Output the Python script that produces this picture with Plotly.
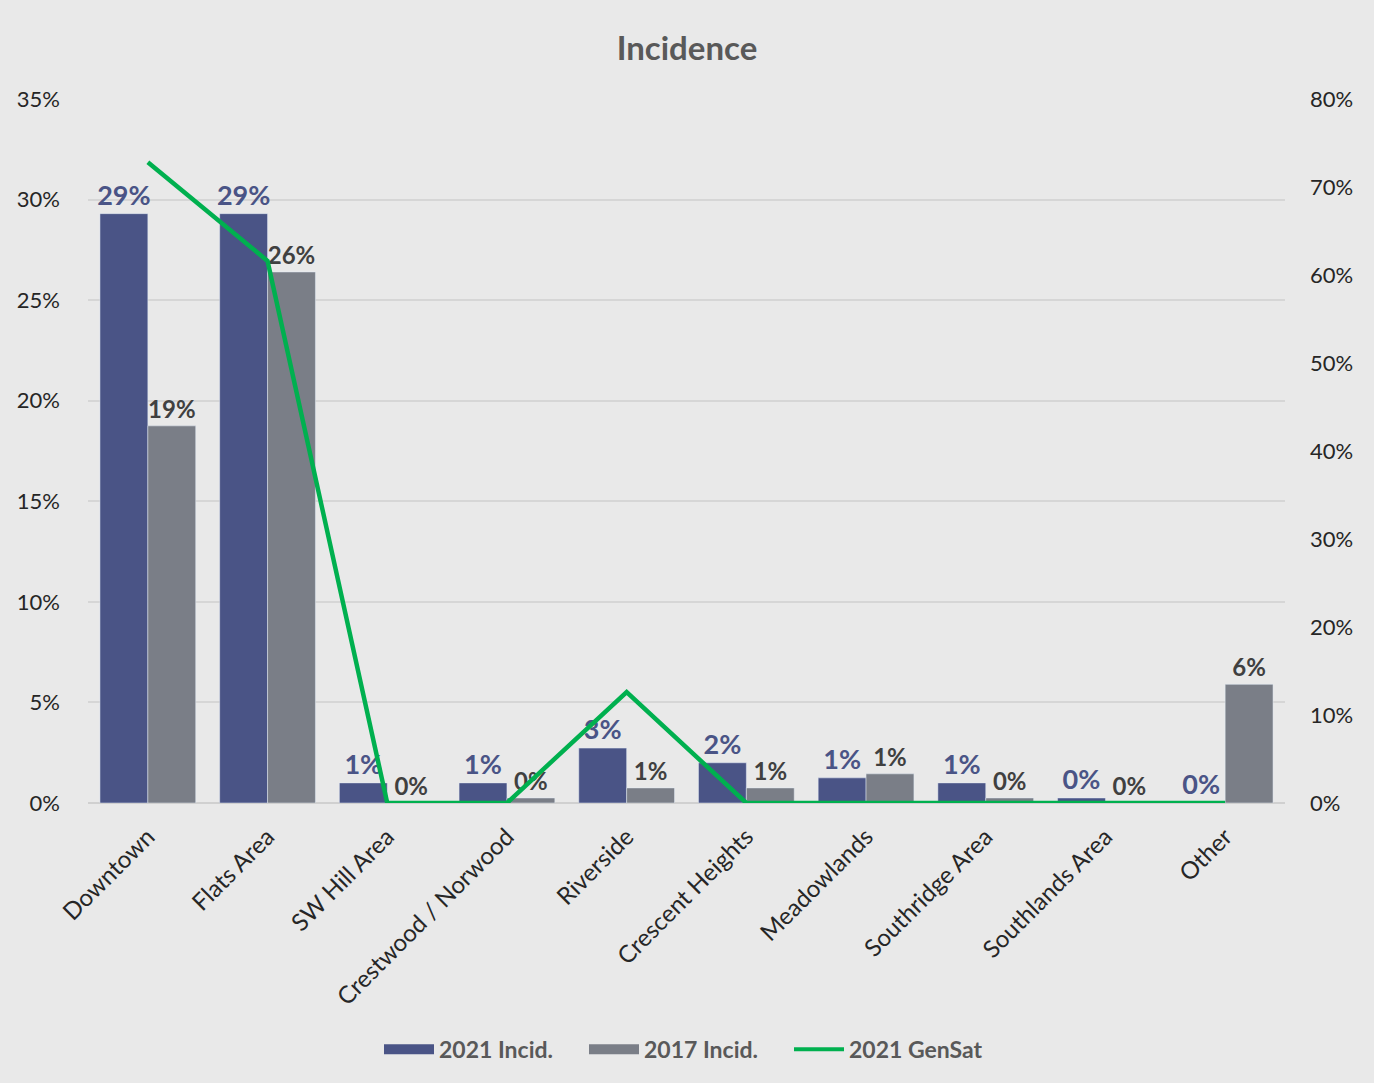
import plotly.graph_objects as go

categories = ["Downtown", "Flats Area", "SW Hill Area", "Crestwood / Norwood", "Riverside",
              "Crescent Heights", "Meadowlands", "Southridge Area", "Southlands Area", "Other"]
incid_2021 = [0.293, 0.293, 0.010, 0.010, 0.0273, 0.020, 0.0125, 0.010, 0.0025, 0.0]
incid_2017 = [0.1875, 0.264, 0.0, 0.0025, 0.0075, 0.0075, 0.0145, 0.0025, 0.0, 0.059]
gensat_2021 = [0.728, 0.616, 0.0, 0.0, 0.126, 0.0, 0.0, 0.0, 0.0, 0.0]

C21 = "#4a5486"
C17 = "#7a7e87"
CG = "#00b04f"
FONT = "Lato"
fig = go.Figure()
fig.add_trace(go.Bar(
    x=categories, y=incid_2021, name="2021 Incid.", marker_color=C21, showlegend=False,
    texttemplate="%{y:.0%}", textposition="outside", cliponaxis=False, constraintext="none",
    textfont=dict(family=FONT, size=27, color=C21, weight="bold"),
))
fig.add_trace(go.Bar(
    x=categories, y=incid_2017, name="2017 Incid.", marker_color=C17, showlegend=False,
    texttemplate="%{y:.0%}", textposition="outside", cliponaxis=False, constraintext="none",
    textfont=dict(family=FONT, size=24, color="#404040", weight="bold"),
))
fig.add_trace(go.Scatter(
    x=categories, y=gensat_2021, name="2021 GenSat", mode="lines", yaxis="y2", showlegend=False,
    line=dict(color=CG, width=4.5), cliponaxis=False,
))
# legend entries
for nm, col, w in [("2021 Incid.", C21, 16), ("2017 Incid.", C17, 16), ("2021 GenSat", CG, 4)]:
    fig.add_trace(go.Scatter(x=[None], y=[None], mode="lines", name=nm,
                             line=dict(color=col, width=w)))

fig.update_layout(
    width=1374, height=1083,
    paper_bgcolor="#e9e9e9", plot_bgcolor="#e9e9e9",
    margin=dict(l=88, r=89, t=99, b=280, autoexpand=False),
    title=dict(text="<b>Incidence</b>", x=0.5, xanchor="center", y=0.955, yanchor="middle",
               font=dict(family=FONT, size=33, color="#595959")),
    barmode="group", bargap=0.2, bargroupgap=0,
    font=dict(family=FONT, size=22, color="#262626"),
    xaxis=dict(tickangle=-45, showgrid=False, showline=False, ticks="", ticklabelstandoff=14,
               tickfont=dict(family=FONT, size=24, color="#262626")),
    yaxis=dict(range=[0, 0.35], dtick=0.05, tickformat=".0%", showgrid=True,
               gridcolor="#d6d6d6", gridwidth=1.5, zeroline=True, zerolinecolor="#d0d0d0",
               zerolinewidth=1.5, ticks="", ticklabelstandoff=27,
               tickfont=dict(family=FONT, size=22, color="#262626")),
    yaxis2=dict(range=[0, 0.8], dtick=0.1, tickformat=".0%", overlaying="y", side="right",
                showgrid=False, zeroline=False, ticks="", ticklabelstandoff=24,
                tickfont=dict(family=FONT, size=22, color="#262626")),
    legend=dict(orientation="h", x=0.5, xanchor="center", y=-0.35, yanchor="middle",
                font=dict(family=FONT, size=23, color="#595959", weight="bold"),
                itemwidth=50, entrywidth=140, traceorder="normal"),
)
fig.write_html("out.html")
